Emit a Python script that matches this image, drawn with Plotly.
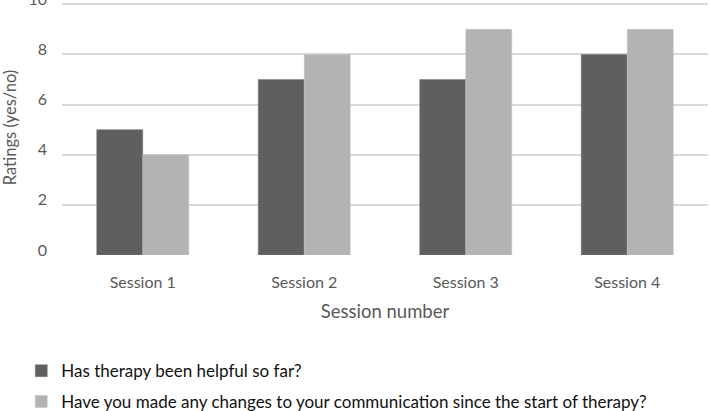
import plotly.graph_objects as go

sessions = ["Session 1", "Session 2", "Session 3", "Session 4"]
helpful = [5, 7, 7, 8]
changes = [4, 8, 9, 9]
series_names = ["Has therapy been helpful so far?",
                "Have you made any changes to your communication since the start of therapy?"]

fig = go.Figure()
fig.add_trace(go.Bar(x=sessions, y=helpful, name=series_names[0], legend="legend",
                     marker=dict(color="#5f5f5f", line=dict(color="#7a7a7a", width=0.5))))
fig.add_trace(go.Bar(x=sessions, y=changes, name=series_names[1], legend="legend2",
                     marker=dict(color="#b3b3b3", line=dict(color="#c4c4c4", width=0.5))))

leg_common = dict(xref="container", yref="container", x=0.03, xanchor="left", yanchor="middle",
                  orientation="h", font=dict(size=17, color="#111111"), itemwidth=30,
                  bgcolor="rgba(0,0,0,0)")

fig.update_layout(
    width=709, height=411,
    margin=dict(l=62, r=1, t=0, b=156, autoexpand=False),
    paper_bgcolor="white", plot_bgcolor="white",
    barmode="group", bargap=0.43, bargroupgap=0,
    font=dict(family="Lato, Open Sans, sans-serif", color="#595959"),
    xaxis=dict(tickfont=dict(size=16, color="#595959"), ticks="", showline=False,
               ticklabelstandoff=16, automargin=False,
               title=dict(text="Session number", font=dict(size=18.5, color="#595959"))),
    yaxis=dict(range=[0, 10.17], tickvals=[0, 2, 4, 6, 8, 10], tickfont=dict(size=16, color="#595959"),
               gridcolor="#d9d9d9", gridwidth=1.5, zeroline=False, showline=False,
               ticks="", ticklabelstandoff=14, automargin=False, ticklabeloverflow="allow",
               ticklabelshift=-5,
               title=dict(text="Ratings (yes/no)", font=dict(size=16.5, color="#595959"))),
    legend=dict(y=0.097, **leg_common),
    legend2=dict(y=0.022, **leg_common),
    showlegend=True,
)

fig.write_html("out.html", config={"displayModeBar": False},
               post_script="document.body.style.margin='0';document.body.style.overflow='hidden';")
